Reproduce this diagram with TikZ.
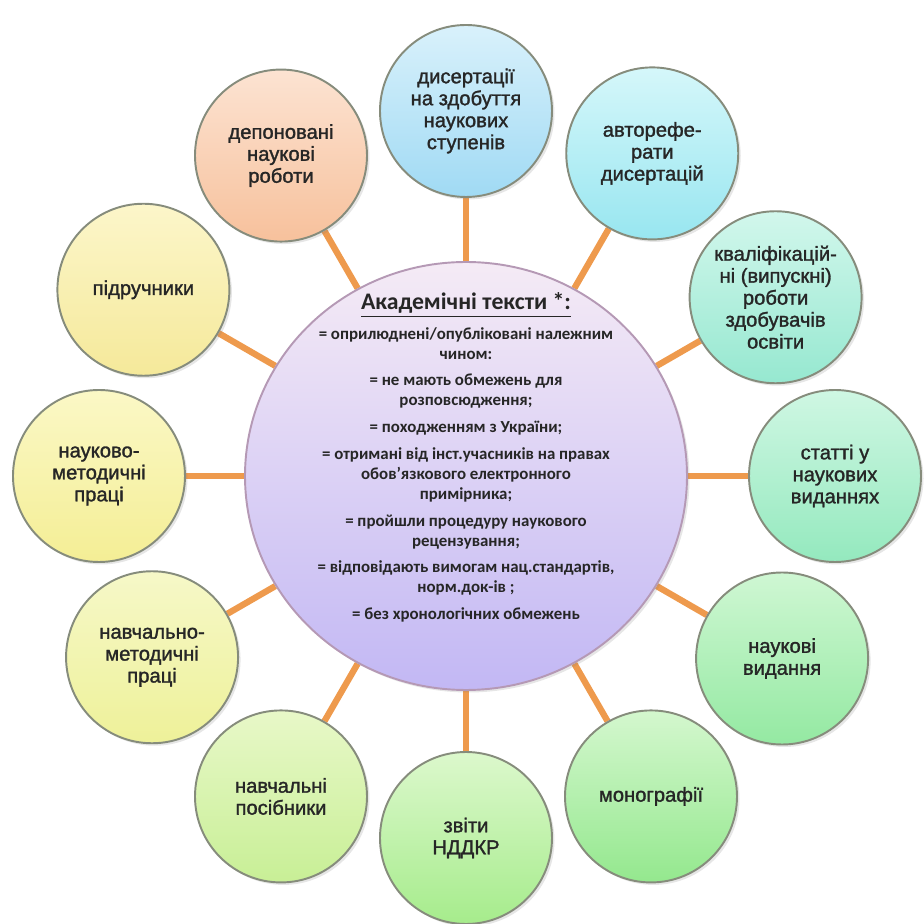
\documentclass[tikz,border=0pt]{standalone}
\usepackage{fontspec}
\setmainfont{Liberation Sans}
\newfontfamily\calibri{Carlito}
\newfontfamily\bubblefont[FakeBold=1.4]{Liberation Sans}
\usetikzlibrary{shapes.geometric,backgrounds,shadows}

\definecolor{linkorange}{HTML}{EE9A4D}
\definecolor{rimgray}{HTML}{868C7C}
\definecolor{inkgray}{HTML}{262626}

\tikzset{
  bubble/.style={circle, draw=rimgray, line width=1.1pt, minimum size=3.44cm,
    inner sep=0pt, align=center, text=inkgray,
    font=\bubblefont\fontsize{11.5}{12.5}\selectfont,
    drop shadow={opacity=0.2, shadow xshift=0.05cm, shadow yshift=-0.05cm}},
  link/.style={linkorange, line width=3.6pt}
}

\begin{document}
\begin{tikzpicture}
\useasboundingbox (-9.32,-8.96) rectangle (9.14,9.52);

% central ellipse
\node[ellipse, draw=black!45!violet!40, line width=1.1pt, minimum width=8.84cm,
  minimum height=8.56cm, top color=violet!8, bottom color=violet!30!blue!28!white,
  drop shadow={opacity=0.2, shadow xshift=0.05cm, shadow yshift=-0.05cm}] (acad) at (0,0) {};
\node[align=center, text=inkgray, font=\calibri\bfseries\fontsize{9.6}{11.3}\selectfont] (acadtxt) at (0,0.37)
  {{\fontsize{13.5}{15}\selectfont\underline{Академічні тексти *:}}\\[5.5pt]
   = оприлюднені/опубліковані належним\\ чином:\\[4pt]
   = не мають обмежень для\\ розповсюдження;\\[4pt]
   = походженням з України;\\[4pt]
   = отримані від інст.учасників на правах\\ обов’язкового електронного\\ примірника;\\[4pt]
   = пройшли процедуру наукового\\ рецензування;\\[4pt]
   = відповідають вимогам нац.стандартів,\\ норм.док-ів ;\\[4pt]
   = без хронологічних обмежень};

% outer circles
\node[bubble, top color={rgb,255:red,217;green,241;blue,251}, bottom color={rgb,255:red,160;green,218;blue,244}] (dys) at (90:7.3) {дисертації\\ на здобуття\\ наукових\\ ступенів};
\node[bubble, top color={rgb,255:red,213;green,247;blue,250}, bottom color={rgb,255:red,152;green,230;blue,240}] (avto) at (60:7.45) {авторефе-\\ рати\\ дисертацій};
\node[bubble, top color={rgb,255:red,210;green,247;blue,236}, bottom color={rgb,255:red,150;green,232;blue,208}] (kval) at (30:7.15) {кваліфікацій-\\ ні (випускні)\\ роботи\\ здобувачів\\ освіти};
\node[bubble, top color={rgb,255:red,207;green,247;blue,227}, bottom color={rgb,255:red,148;green,233;blue,190}] (stat) at (0:7.38) {статті у\\ наукових\\ виданнях};
\node[bubble, top color={rgb,255:red,207;green,247;blue,211}, bottom color={rgb,255:red,148;green,233;blue,162}] (nvyd) at (-30:7.3) {наукові\\ видання};
\node[bubble, top color={rgb,255:red,212;green,247;blue,206}, bottom color={rgb,255:red,148;green,232;blue,142}] (mono) at (-60:7.4) {монографії};
\node[bubble, top color={rgb,255:red,220;green,248;blue,204}, bottom color={rgb,255:red,166;green,236;blue,140}] (zvit) at (-90:7.24) {звіти\\ НДДКР};
\node[bubble, top color={rgb,255:red,232;green,248;blue,200}, bottom color={rgb,255:red,200;green,239;blue,150}] (posib) at (-120:7.4) {навчальні\\ посібники};
\node[bubble, top color={rgb,255:red,246;green,248;blue,200}, bottom color={rgb,255:red,238;green,241;blue,153}] (nmet) at (-150:7.25) {навчально-\\ методичні\\ праці};
\node[bubble, top color={rgb,255:red,251;green,248;blue,198}, bottom color={rgb,255:red,244;green,238;blue,149}] (naum) at (180:7.34) {науково-\\ методичні\\ праці};
\node[bubble, top color={rgb,255:red,252;green,246;blue,202}, bottom color={rgb,255:red,245;green,233;blue,154}] (pidr) at (150:7.45) {підручники};
\node[bubble, top color={rgb,255:red,252;green,227;blue,210}, bottom color={rgb,255:red,247;green,193;blue,156}] (depo) at (120:7.4) {депоновані\\ наукові\\ роботи};

% connectors
\begin{scope}[on background layer]
\draw[link] (acad) -- (dys);
\draw[link] (acad) -- (avto);
\draw[link] (acad) -- (kval);
\draw[link] (acad) -- (stat);
\draw[link] (acad) -- (nvyd);
\draw[link] (acad) -- (mono);
\draw[link] (acad) -- (zvit);
\draw[link] (acad) -- (posib);
\draw[link] (acad) -- (nmet);
\draw[link] (acad) -- (naum);
\draw[link] (acad) -- (pidr);
\draw[link] (acad) -- (depo);
\end{scope}
\end{tikzpicture}
\end{document}
